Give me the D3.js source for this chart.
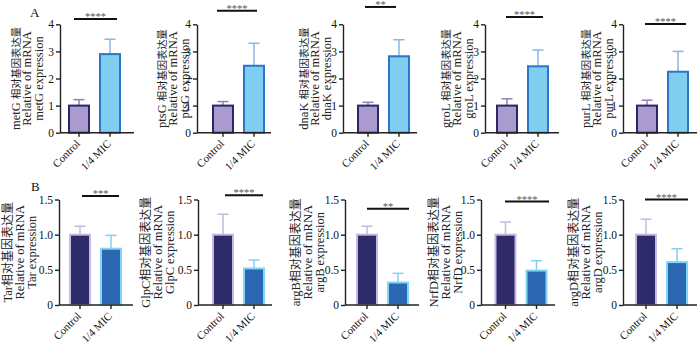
<!DOCTYPE html>
<html><head><meta charset="utf-8">
<script src="https://cdn.jsdelivr.net/npm/d3@7"></script>
<style>body{margin:0;background:#fff} svg{display:block}</style>
</head><body>
<svg id="chart" width="700" height="344"></svg>
<script>
// ---------- data ----------
const categories = ["Control", "1/4 MIC"];

const topGenes = ["metG", "ptsG", "dnaK", "groL", "purL"];
const topControl = [1, 1, 1, 1, 1];
const topControlSD = [0.22, 0.15, 0.12, 0.25, 0.20];
const topMIC = [2.90, 2.47, 2.82, 2.45, 2.25];
const topMICSD = [0.55, 0.83, 0.61, 0.60, 0.75];
const topStars = ["****", "****", "**", "****", "****"];
const topSigLevel = [4.2, 4.5, 4.64, 4.27, 4.01];
const topTicks = [0, 1, 2, 3, 4];

const bottomGenes = ["Tar", "GlpC", "argB", "NrfD", "argD"];
const bottomControl = [1, 1, 1, 1, 1];
const bottomControlSD = [0.12, 0.29, 0.12, 0.18, 0.22];
const bottomMIC = [0.80, 0.52, 0.32, 0.49, 0.61];
const bottomMICSD = [0.19, 0.12, 0.13, 0.14, 0.19];
const bottomStars = ["***", "****", "**", "****", "****"];
const bottomSigLevel = [1.55, 1.56, 1.37, 1.47, 1.50];
const bottomTicks = [0, 0.5, 1.0, 1.5];

// ---------- layout ----------
const topAxisX = [60, 197, 343, 485, 623];
const topC0 = [19, 26, 25, 22, 24];
const topSigFrom = [14, 20, 22, 21, 22];
const topSigTo = [57, 60, 53, 58, 63];
const topLabelOff = [-45, -36, -40, -40, -38];

const bottomAxisX = [59, 198, 345, 481, 623];
const bottomC0 = [21, 25, 22, 24.5, 23];
const bottomSigFrom = [23, 27, 22, 24, 22];
const bottomSigTo = [60, 65, 64, 68, 65];
const bottomLabelOff = [-52, -53, -50, -48, -50];

const topColors = {
  fill: ["#a99bcf", "#7fcef0"],
  stroke: ["#2e2466", "#2b76c6"],
  err: ["#8e80c0", "#8cb6e6"]
};
const bottomColors = {
  fill: ["#2f2a6a", "#2c68b2"],
  stroke: ["#c8b8e6", "#80d6f6"],
  err: ["#c6b8de", "#86cff0"]
};

const FONT = "'Liberation Serif','Times New Roman','Noto Sans CJK SC',serif";
const svg = d3.select("#chart");

function drawPanel(p) {
  const y = d3.scaleLinear().domain([0, p.ticks[p.ticks.length - 1]]).range(p.yRange);
  const x = d3.scaleBand().domain(categories)
    .range([p.axisX + p.c0 - 15.5, p.axisX + p.c0 + 46.5])
    .paddingInner(0.355).paddingOuter(0.1775);
  const g = svg.append("g");

  categories.forEach((c, i) => {
    const v = p.values[i], sd = p.sds[i];
    const cx = x(c) + x.bandwidth() / 2;
    g.append("line").attr("x1", cx).attr("x2", cx)
      .attr("y1", y(v)).attr("y2", y(v + sd))
      .attr("stroke", p.colors.err[i]).attr("stroke-width", 1.5);
    g.append("line").attr("x1", cx - 5.5).attr("x2", cx + 5.5)
      .attr("y1", y(v + sd)).attr("y2", y(v + sd))
      .attr("stroke", p.colors.err[i]).attr("stroke-width", 1.5);
    g.append("rect").attr("x", x(c)).attr("y", y(v))
      .attr("width", x.bandwidth()).attr("height", y(0) - y(v))
      .attr("fill", p.colors.fill[i]).attr("stroke", p.colors.stroke[i])
      .attr("stroke-width", 2);
  });

  // y axis
  const yg = g.append("g").attr("transform", `translate(${p.axisX},0)`)
    .call(d3.axisLeft(y).tickValues(p.ticks).tickFormat(p.fmt).tickSize(4).tickSizeOuter(0).tickPadding(2));
  yg.attr("font-family", FONT).attr("font-size", 11.5);
  yg.selectAll("path,line").attr("stroke", "#222").attr("stroke-width", 1.4);
  yg.selectAll("text").attr("fill", "#111");

  // x axis (ticks only; labels drawn rotated below)
  const xg = g.append("g").attr("transform", `translate(0,${p.yRange[0]})`)
    .call(d3.axisBottom(x).tickSize(4).tickSizeOuter(0).tickFormat(""));
  xg.select(".domain").attr("d", `M${p.axisX},0H${p.axisX + 74}`);
  xg.selectAll("path,line").attr("stroke", "#222").attr("stroke-width", 1.4);
  xg.selectAll("text").remove();
  categories.forEach(c => {
    const cx = x(c) + x.bandwidth() / 2;
    g.append("text")
      .attr("transform", `translate(${cx - 1},${p.yRange[0] + 9}) rotate(-45)`)
      .attr("text-anchor", "end").attr("dy", "0.35em")
      .attr("font-family", FONT).attr("font-size", 11).attr("fill", "#111")
      .text(c);
  });

  // significance
  const sy = y(p.sigLevel);
  g.append("line").attr("x1", p.axisX + p.sigFrom).attr("x2", p.axisX + p.sigTo)
    .attr("y1", sy).attr("y2", sy).attr("stroke", "#111").attr("stroke-width", 2);
  g.append("text").attr("x", p.axisX + (p.sigFrom + p.sigTo) / 2).attr("y", sy + 1)
    .attr("text-anchor", "middle").attr("font-family", FONT).attr("font-size", 10.5)
    .attr("fill", "#555").text(p.stars);

  // y label (3 lines, rotated)
  const cy = (p.yRange[0] + p.yRange[1]) / 2;
  const lines = [p.gene + p.sep, "Relative of mRNA", p.gene + " expression"];
  lines.forEach((t, k) => {
    const tx = p.axisX + p.labelOff + k * p.lineGap + 4.5;
    const te = g.append("text")
      .attr("transform", `translate(${tx},${cy}) rotate(-90)`)
      .attr("text-anchor", "middle").attr("font-family", FONT)
      .attr("font-size", 12.5).attr("fill", "#222");
    if (k === 0) {
      te.append("tspan").text(p.gene + p.sep);
      te.append("tspan").attr("font-size", p.cjkSize).text("相对基因表达量");
    } else {
      te.text(t);
    }
  });
}

topGenes.forEach((gene, i) => drawPanel({
  gene, sep: " ", values: [topControl[i], topMIC[i]], sds: [topControlSD[i], topMICSD[i]],
  stars: topStars[i], sigLevel: topSigLevel[i], ticks: topTicks, fmt: d3.format("d"),
  yRange: [132.7, 24.3], axisX: topAxisX[i], c0: topC0[i], sigFrom: topSigFrom[i], sigTo: topSigTo[i],
  labelOff: topLabelOff[i], lineGap: 11.7, cjkSize: 10.3, colors: topColors
}));

bottomGenes.forEach((gene, i) => drawPanel({
  gene, sep: "", values: [bottomControl[i], bottomMIC[i]], sds: [bottomControlSD[i], bottomMICSD[i]],
  stars: bottomStars[i], sigLevel: bottomSigLevel[i], ticks: bottomTicks,
  fmt: d => d === 0 ? "0" : d3.format(".1f")(d),
  yRange: [305, 199.5], axisX: bottomAxisX[i], c0: bottomC0[i], sigFrom: bottomSigFrom[i], sigTo: bottomSigTo[i],
  labelOff: bottomLabelOff[i], lineGap: 12.3, cjkSize: 12, colors: bottomColors
}));

svg.append("text").attr("x", 30).attr("y", 17).attr("font-family", FONT).attr("font-size", 13).attr("fill", "#111").text("A");
svg.append("text").attr("x", 31).attr("y", 191).attr("font-family", FONT).attr("font-size", 13).attr("fill", "#111").text("B");
</script></body></html>
